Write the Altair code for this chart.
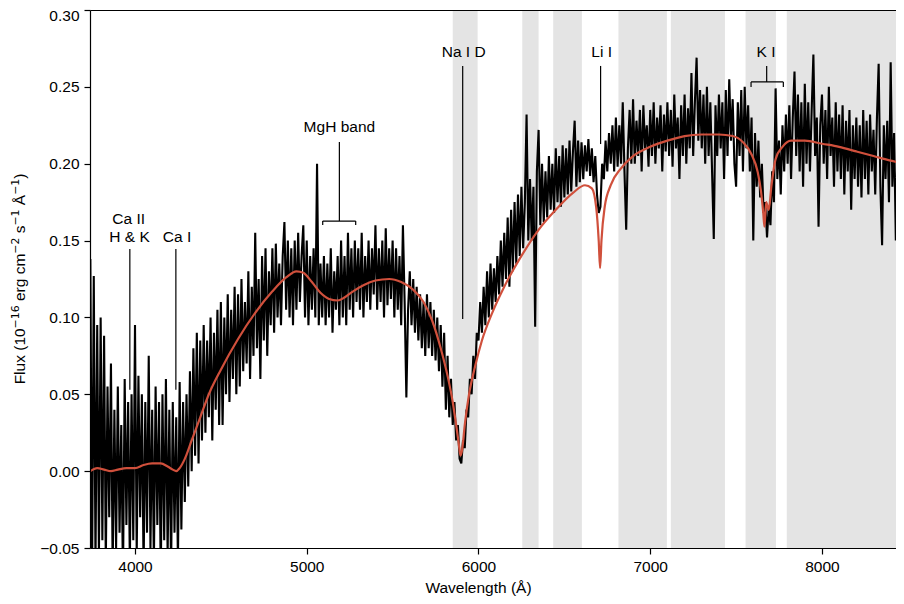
import altair as alt
import pandas as pd

FONT = "Liberation Sans"
SUP_FONT = "DejaVu Sans"
FS = 15.5
SUP_FS = 10.9

STEP = 10
FLUX_START_A = 3740
FLUX_A = [
    0.138, -0.070, 0.127, -0.060, 0.095, -0.055,
    0.100, -0.045, 0.088, -0.060, 0.055, -0.030, 0.070, -0.065, 0.040, -0.050,
    0.055, -0.040, 0.030, -0.070, 0.060, -0.035, 0.045, -0.060, 0.050, -0.045,
    0.095, -0.055, 0.062, -0.030, 0.050, -0.065, 0.045, -0.040, 0.075, -0.050,
    0.040, -0.060, 0.055, -0.035, 0.045, -0.070, 0.050, -0.045, 0.060, -0.055,
    0.040, -0.065, 0.045, -0.040, 0.035, -0.060, 0.058, -0.038, 0.045, -0.020,
]
FLUX_START_B = 4300
FLUX_B = [
    0.050, -0.010, 0.065, 0.000, 0.080, 0.010, 0.090, 0.005, 0.085, 0.020,
    0.095, 0.025, 0.085, 0.035, 0.100, 0.020, 0.090, 0.040, 0.105, 0.030,
    0.110, 0.030, 0.100, 0.050, 0.115, 0.045, 0.105, 0.060, 0.120, 0.050,
    0.115, 0.055, 0.125, 0.065, 0.110, 0.070, 0.130, 0.060, 0.120, 0.075,
    0.155, 0.080, 0.125, 0.060, 0.140, 0.085, 0.145, 0.075, 0.130, 0.095,
    0.145, 0.090, 0.148, 0.100, 0.135, 0.095, 0.140, 0.162, 0.105, 0.150,
    0.100, 0.145, 0.095, 0.150, 0.105, 0.155, 0.110, 0.140, 0.160, 0.100,
]
FLUX_START_C = 5000
FLUX_C = [
    0.150, 0.095, 0.140, 0.105, 0.145, 0.100, 0.200, 0.095, 0.135, 0.100,
    0.140, 0.095, 0.135, 0.100, 0.145, 0.090, 0.130, 0.105, 0.140, 0.095,
    0.150, 0.100, 0.140, 0.095, 0.155, 0.105, 0.145, 0.100, 0.150, 0.110,
    0.145, 0.105, 0.155, 0.100, 0.140, 0.110, 0.150, 0.105, 0.145, 0.115,
    0.160, 0.105, 0.145, 0.110, 0.150, 0.100, 0.158, 0.108, 0.145, 0.112,
    0.150, 0.100, 0.145, 0.105, 0.140, 0.095, 0.160, 0.110, 0.048, 0.105,
    0.130, 0.095, 0.125, 0.090, 0.120, 0.085, 0.115, 0.080, 0.110, 0.075,
    0.115, 0.080, 0.110, 0.075, 0.105, 0.072, 0.100, 0.065, 0.095, 0.055,
    0.090, 0.040, 0.075, 0.035, 0.060, 0.030, 0.045, 0.020, 0.030, 0.008,
    0.005, 0.020, 0.015, 0.040, 0.035, 0.060, 0.050, 0.075, 0.060, 0.090,
]
FLUX_START_D = 6000
FLUX_D = [
    0.085, 0.110, 0.090, 0.120, 0.095, 0.130, 0.100, 0.135, 0.105, 0.132,
    0.110, 0.140, 0.115, 0.150, 0.120, 0.155, 0.125, 0.165, 0.120, 0.170,
    0.130, 0.175, 0.135, 0.180, 0.140, 0.185, 0.145, 0.175, 0.232, 0.150,
    0.190, 0.150, 0.185, 0.094, 0.195, 0.222, 0.160, 0.200, 0.162, 0.195,
    0.165, 0.205, 0.170, 0.200, 0.168, 0.210, 0.175, 0.205, 0.172, 0.212,
    0.178, 0.210, 0.180, 0.215, 0.182, 0.208, 0.228, 0.185, 0.215, 0.188,
    0.214, 0.190, 0.212, 0.195, 0.216, 0.192, 0.210, 0.188, 0.205, 0.180,
    0.168, 0.172, 0.200, 0.190, 0.215, 0.195, 0.220, 0.200, 0.225, 0.195,
    0.230, 0.198, 0.225, 0.200, 0.240, 0.195, 0.157, 0.210, 0.235, 0.200,
    0.242, 0.200, 0.228, 0.205, 0.235, 0.195, 0.238, 0.210, 0.225, 0.198,
]
FLUX_START_E = 7000
FLUX_E = [
    0.235, 0.205, 0.240, 0.200, 0.230, 0.210, 0.238, 0.195, 0.232, 0.208,
    0.240, 0.205, 0.235, 0.198, 0.245, 0.210, 0.230, 0.190, 0.238, 0.205,
    0.245, 0.200, 0.236, 0.210, 0.259, 0.205, 0.240, 0.269, 0.215, 0.248,
    0.210, 0.245, 0.200, 0.250, 0.205, 0.240, 0.195, 0.151, 0.238, 0.205,
    0.245, 0.210, 0.240, 0.190, 0.248, 0.205, 0.255, 0.215, 0.242, 0.200,
    0.185, 0.240, 0.205, 0.248, 0.195, 0.250, 0.210, 0.238, 0.195, 0.230,
    0.150, 0.220, 0.185, 0.215, 0.178, 0.200, 0.168, 0.175, 0.152, 0.172,
    0.160, 0.195, 0.175, 0.249, 0.190, 0.215, 0.180, 0.225, 0.195, 0.232,
    0.200, 0.238, 0.190, 0.230, 0.260, 0.205, 0.245, 0.195, 0.240, 0.185,
    0.252, 0.200, 0.240, 0.195, 0.235, 0.271, 0.205, 0.230, 0.159, 0.225,
]
FLUX_START_F = 8000
FLUX_F = [
    0.245, 0.200, 0.235, 0.190, 0.250, 0.205, 0.230, 0.185, 0.240, 0.195,
    0.232, 0.190, 0.238, 0.180, 0.228, 0.195, 0.235, 0.170, 0.225, 0.190,
    0.230, 0.185, 0.225, 0.178, 0.235, 0.190, 0.228, 0.180, 0.232, 0.195,
    0.222, 0.180, 0.230, 0.265, 0.185, 0.147, 0.225, 0.190, 0.228, 0.175,
    0.266, 0.185, 0.220, 0.150, 0.215, 0.180, 0.225, 0.190, 0.210,
]

# ---- model spectrum (red curve) ----
MODEL_WAVE = [
    3740, 3780, 3820, 3860, 3900, 3950, 4000, 4050, 4100, 4150, 4190, 4220, 4240,
    4260, 4290, 4330, 4380, 4430, 4500, 4600, 4700, 4800, 4880, 4940, 4980, 5030,
    5080, 5130, 5180, 5220, 5270, 5330, 5400, 5480, 5550, 5620, 5680, 5730, 5780,
    5820, 5850, 5870, 5885, 5895, 5905, 5920, 5945, 5980, 6020, 6080, 6150, 6250,
    6350, 6450, 6550, 6620, 6660, 6685, 6700, 6708, 6716, 6735, 6770, 6830, 6900,
    7000, 7100, 7200, 7300, 7400, 7480, 7540, 7590, 7625, 7645, 7658, 7665, 7675,
    7690, 7705, 7730, 7770, 7820, 7900, 8000, 8100, 8200, 8300, 8400, 8480,
]
MODEL_FLUX = [
    0.000, 0.002, 0.001, 0.000, 0.001, 0.002, 0.002, 0.004, 0.005, 0.005, 0.003, 0.001, 0.000,
    0.002, 0.008, 0.020, 0.035, 0.050, 0.066, 0.086, 0.103, 0.117, 0.126, 0.130, 0.129, 0.123,
    0.116, 0.112, 0.111, 0.113, 0.117, 0.121, 0.124, 0.125, 0.123, 0.118, 0.110, 0.098, 0.080,
    0.062, 0.045, 0.030, 0.018, 0.010, 0.014, 0.030, 0.050, 0.068, 0.085, 0.103, 0.120, 0.140,
    0.157, 0.170, 0.181, 0.186, 0.184, 0.172, 0.150, 0.132, 0.150, 0.172, 0.186, 0.197, 0.205,
    0.211, 0.215, 0.218, 0.219, 0.219, 0.218, 0.214, 0.206, 0.195, 0.182, 0.168, 0.159, 0.175,
    0.170, 0.185, 0.203, 0.211, 0.215, 0.215, 0.213, 0.211, 0.208, 0.205, 0.202, 0.200,
]

# ---- shaded bands ----
BAND_START = [5850, 6255, 6435, 6815, 7120, 7555, 7795]
BAND_END = [5995, 6350, 6602, 7097, 7435, 7732, 8600]

# ---- annotation segments (wavelength, flux) ----
SEG_X1 = [3970, 4238, 5190, 5093, 5093, 5285, 5908, 6711, 7678, 7587, 7587, 7775]
SEG_X2 = [3970, 4238, 5190, 5285, 5093, 5285, 5908, 6711, 7678, 7775, 7587, 7775]
SEG_Y1 = [0.1445, 0.1445, 0.2141, 0.1627, 0.1627, 0.1627, 0.2636, 0.2636, 0.2636, 0.2532, 0.2532, 0.2532]
SEG_Y2 = [0.0530, 0.0530, 0.1627, 0.1627, 0.1601, 0.1601, 0.0990, 0.2128, 0.2532, 0.2532, 0.2499, 0.2499]

LABEL_TEXT = ["Ca II", "H & K", "Ca I", "MgH band", "Na I D", "Li I", "K I"]
LABEL_X = [3963, 3968, 4245, 5190, 5914, 6717, 7674]
LABEL_Y = [0.1608, 0.1491, 0.1491, 0.2204, 0.2697, 0.2697, 0.2697]

# ---- y-axis title, written with real superscripts ----
TITLE_PARTS = ["Flux (10", "−16", " erg cm", "−2", " s", "−1", " Å", "−1", ")"]
TITLE_IS_SUP = [False, True, False, True, False, True, False, True, False]

X_TICKS = [4000, 5000, 6000, 7000, 8000]
Y_TICKS = [-0.05, 0.00, 0.05, 0.10, 0.15, 0.20, 0.25, 0.30]
X_DOMAIN = [3738, 8431]
Y_DOMAIN = [-0.05, 0.30]

W, H = 806, 538

rows = []
for start, vals in [(FLUX_START_A, FLUX_A), (FLUX_START_B, FLUX_B), (FLUX_START_C, FLUX_C),
                    (FLUX_START_D, FLUX_D), (FLUX_START_E, FLUX_E), (FLUX_START_F, FLUX_F)]:
    for i, v in enumerate(vals):
        rows.append({"wave": start + STEP * i, "flux": v})
spec_df = pd.DataFrame(rows)
model_df = pd.DataFrame({"wave": MODEL_WAVE, "flux": MODEL_FLUX})
band_df = pd.DataFrame({"start": BAND_START, "end": BAND_END})
seg_df = pd.DataFrame({"x1": SEG_X1, "x2": SEG_X2, "y1": SEG_Y1, "y2": SEG_Y2})
lab_df = pd.DataFrame({"text": LABEL_TEXT, "x": LABEL_X, "y": LABEL_Y})

# advance widths (fraction of em) used to lay the title pieces end to end
SANS_W = {"F": 0.611, "l": 0.222, "u": 0.556, "x": 0.5, " ": 0.278, "(": 0.333,
          "1": 0.556, "0": 0.556, "e": 0.556, "r": 0.333, "g": 0.556, "c": 0.5,
          "m": 0.833, "s": 0.5, "Å": 0.667, ")": 0.333}
SUP_W = {"−": 0.838, "1": 0.636, "6": 0.636, "2": 0.636}
pos = 0.0
pieces = []
for part, sup in zip(TITLE_PARTS, TITLE_IS_SUP):
    size = SUP_FS if sup else FS
    table = SUP_W if sup else SANS_W
    lead = (len(part) - len(part.lstrip(" "))) * SANS_W[" "] * FS
    start = pos + lead
    pos += sum(table[c] for c in part) * size
    pieces.append({"t": part.strip(" "), "off": start, "sup": sup})
total = pos
base_rows = [{"t": p["t"], "py": H / 2 + total / 2 - p["off"]} for p in pieces if not p["sup"]]
sup_rows = [{"t": p["t"], "py": H / 2 + total / 2 - p["off"]} for p in pieces if p["sup"]]
base_df = pd.DataFrame(base_rows)
sup_df = pd.DataFrame(sup_rows)

xs = alt.Scale(domain=X_DOMAIN, nice=False, zero=False)
ys = alt.Scale(domain=Y_DOMAIN, nice=False, zero=False)

x_axis = alt.Axis(
    values=X_TICKS, format="d", tickSize=6, labelPadding=5, labelFontSize=FS,
    labelFont=FONT, labelColor="black", tickColor="black", tickWidth=1.2,
    domainColor="black", domainWidth=1.2, grid=False, zindex=1,
    titleFont=FONT, titleFontSize=FS, titleFontWeight="normal", titleColor="black",
    titleX=388, titleY=44, titleBaseline="alphabetic", titleAlign="center",
)
top_axis = alt.Axis(orient="top", labels=False, ticks=False, domain=True, zindex=1,
                    domainColor="black", domainWidth=1.2, grid=False, title=None)
y_axis = alt.Axis(
    values=Y_TICKS, format=".2f", tickSize=6, labelPadding=5, labelFontSize=FS,
    labelFont=FONT, labelColor="black", tickColor="black", tickWidth=1.2,
    labelOffset={"condition": {"test": "datum.value > 0.29", "value": 5}, "value": 0},
    domainColor="black", domainWidth=1.2, grid=False, zindex=1, title=None,
)

bands = alt.Chart(band_df).mark_rect(color="#e4e4e4", clip=True).encode(
    x=alt.X("start:Q", scale=xs, axis=None),
    x2="end:Q",
    y=alt.Y(datum=-0.05, scale=ys, axis=None),
    y2=alt.datum(0.30),
)

segs = alt.Chart(seg_df).mark_rule(color="black", strokeWidth=1.2).encode(
    x=alt.X("x1:Q", scale=xs, axis=None),
    x2="x2:Q",
    y=alt.Y("y1:Q", scale=ys, axis=None),
    y2="y2:Q",
)

spec = alt.Chart(spec_df).mark_line(color="black", strokeWidth=2.1, clip=True).encode(
    x=alt.X("wave:Q", scale=xs, axis=x_axis, title="Wavelength (Å)"),
    y=alt.Y("flux:Q", scale=ys, axis=y_axis),
)

model = alt.Chart(model_df).mark_line(
    color="#d0503c", strokeWidth=2.2, clip=True, interpolate="monotone"
).encode(
    x=alt.X("wave:Q", scale=xs, axis=top_axis),
    y=alt.Y("flux:Q", scale=ys, axis=None),
)

labels = alt.Chart(lab_df).mark_text(
    font=FONT, fontSize=FS, color="black", align="center", baseline="alphabetic"
).encode(
    x=alt.X("x:Q", scale=xs, axis=None),
    y=alt.Y("y:Q", scale=ys, axis=None),
    text="text:N",
)

ytitle_base = alt.Chart(base_df).mark_text(
    font=FONT, fontSize=FS, color="black", align="left", baseline="alphabetic", angle=270
).encode(
    x=alt.value(-65),
    y=alt.Y("py:Q", scale=None, axis=None),
    text="t:N",
)
ytitle_sup = alt.Chart(sup_df).mark_text(
    font=SUP_FONT, fontSize=SUP_FS, color="black", align="left", baseline="alphabetic", angle=270
).encode(
    x=alt.value(-71.5),
    y=alt.Y("py:Q", scale=None, axis=None),
    text="t:N",
)

chart = alt.layer(bands, segs, spec, model, labels, ytitle_base, ytitle_sup).resolve_axis(
    x="independent", y="independent"
).properties(
    width=W, height=H,
    autosize=alt.AutoSizeParams(type="none"),
    padding={"left": 82, "top": 2, "right": 0, "bottom": 48},
    background="white",
).configure_view(stroke=None)

chart.save("out.html", embed_options={"renderer": "svg", "actions": False})
